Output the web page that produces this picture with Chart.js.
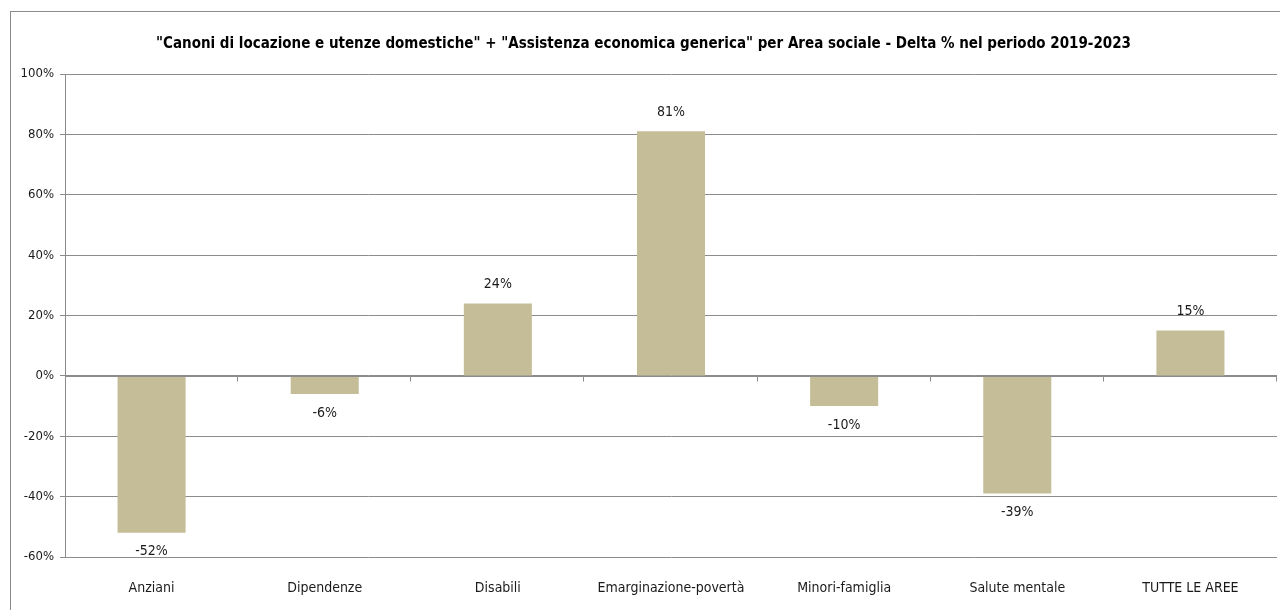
<!DOCTYPE html>
<html lang="it">
<head>
<meta charset="utf-8">
<title>Delta % 2019-2023 per Area sociale</title>
<script src="https://cdn.jsdelivr.net/npm/chart.js@4"></script>
<style>
    html, body { margin: 0; padding: 0; background: #fff; overflow: hidden; }
    #frame { position: absolute; left: 10px; top: 11px; width: 1290px; height: 620px; border: 1px solid #8c8c8c; box-sizing: border-box; }
    #wrap { position: absolute; left: 0; top: 0; width: 1280px; height: 610px; }
</style>
</head>
<body>
<div id="frame"></div>
<div id="wrap"><canvas id="chartDelta"></canvas></div>
<script>
// Aree sociali e variazione % 2019-2023
const aree = ['Anziani', 'Dipendenze', 'Disabili', 'Emarginazione-povertà', 'Minori-famiglia', 'Salute mentale', 'TUTTE LE AREE'];
const delta = [-52, -6, 24, 81, -10, -39, 15];
const yTicks = [-60, -40, -20, 0, 20, 40, 60, 80, 100];

const FONT = '"Liberation Sans Narrow", "DejaVu Sans Condensed", "Liberation Sans", sans-serif';
const TAN = '#c4bd97';
const GRID = '#8c8c8c';

// Etichette con il valore sopra (o sotto) ogni barra
const valueLabels = {
    id: 'valueLabels',
    afterDatasetsDraw(chart) {
        const ctx = chart.ctx;
        const meta = chart.getDatasetMeta(0);
        ctx.save();
        ctx.font = '14px ' + FONT;
        ctx.fillStyle = '#1a1a1a';
        ctx.textAlign = 'center';
        ctx.textBaseline = 'middle';
        meta.data.forEach((bar, i) => {
            const v = delta[i];
            const y = v >= 0 ? bar.y - 19 : bar.y + 19;
            ctx.fillText(v + '%', bar.x, y);
        });
        ctx.restore();
    }
};

// Asse orizzontale sullo zero con le tacche tra le categorie
const zeroAxis = {
    id: 'zeroAxis',
    afterDatasetsDraw(chart) {
        const { ctx, chartArea, scales } = chart;
        const y0 = Math.round(scales.y.getPixelForValue(0)) + 0.5;
        const step = (chartArea.right - chartArea.left) / aree.length;
        ctx.save();
        ctx.strokeStyle = GRID;
        ctx.lineWidth = 1;
        ctx.beginPath();
        ctx.moveTo(chartArea.left, y0);
        ctx.lineTo(chartArea.right, y0);
        for (let i = 1; i <= aree.length; i++) {
            const x = Math.round(chartArea.left + step * i) - 0.5;
            ctx.moveTo(x, y0);
            ctx.lineTo(x, y0 + 5);
        }
        ctx.stroke();
        ctx.restore();
    }
};

new Chart(document.getElementById('chartDelta'), {
    type: 'bar',
    data: {
        labels: aree,
        datasets: [{ data: delta, backgroundColor: TAN, borderWidth: 0, categoryPercentage: 1, barPercentage: 0.393 }]
    },
    options: {
        responsive: true,
        maintainAspectRatio: false,
        animation: false,
        layout: { padding: { left: 10, right: 3, top: 8, bottom: 8 } },
        plugins: {
            legend: { display: false },
            tooltip: { enabled: false },
            title: {
                display: true,
                text: '"Canoni di locazione e utenze domestiche" + "Assistenza economica generica" per Area sociale - Delta % nel periodo 2019-2023',
                color: '#000',
                font: { family: FONT, size: 15, weight: 'bold' },
                padding: { top: 27, bottom: 21 }
            }
        },
        scales: {
            y: {
                min: -60,
                max: 100,
                afterBuildTicks: (s) => { s.ticks = yTicks.map(v => ({ value: v })); },
                afterFit: (s) => { s.width = 55; },
                ticks: { callback: (v) => v + '%', color: '#1a1a1a', font: { family: FONT, size: 13 }, padding: 6 },
                grid: { color: GRID, tickLength: 5, drawTicks: true },
                border: { display: true, color: GRID }
            },
            x: {
                afterFit: (s) => { s.height = 45; },
                grid: { display: false },
                border: { display: false },
                ticks: { color: '#1a1a1a', font: { family: FONT, size: 14 }, padding: 15, maxRotation: 0, autoSkip: false }
            }
        }
    },
    plugins: [valueLabels, zeroAxis]
});
</script>
</body>
</html>
